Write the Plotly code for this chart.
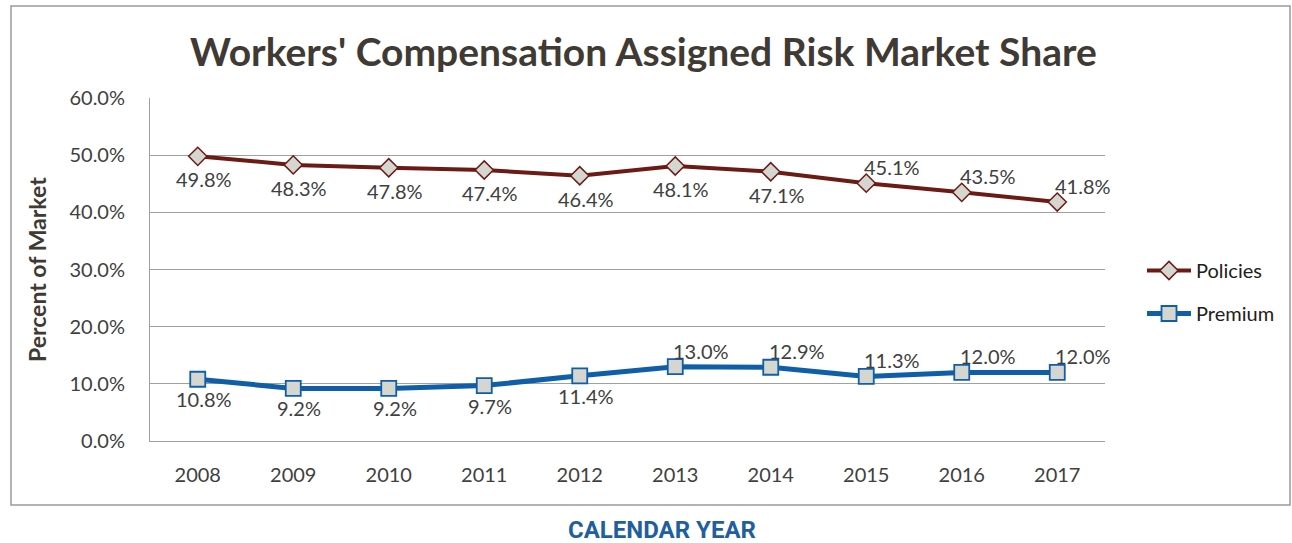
import plotly.graph_objects as go

years = ["2008", "2009", "2010", "2011", "2012", "2013", "2014", "2015", "2016", "2017"]
policies = [49.8, 48.3, 47.8, 47.4, 46.4, 48.1, 47.1, 45.1, 43.5, 41.8]
premium = [10.8, 9.2, 9.2, 9.7, 11.4, 13.0, 12.9, 11.3, 12.0, 12.0]
policies_above = [False] * 7 + [True] * 3
premium_above = [False] * 5 + [True] * 5

FONT = "Lato"
TXT = "#404040"

fig = go.Figure()
fig.add_trace(go.Scatter(
    x=years, y=policies, name="Policies", mode="lines+markers",
    line=dict(color="#6b1a14", width=4),
    marker=dict(symbol="diamond", size=14, color="#d6d6d0", line=dict(color="#6b1a14", width=1.5)),
    legendgroup="a",
))
fig.add_trace(go.Scatter(
    x=years, y=premium, name="Premium", mode="lines+markers",
    line=dict(color="#0f5ea8", width=5),
    marker=dict(symbol="square", size=15, color="#d6d6d0", line=dict(color="#0f5ea8", width=1.8)),
    legendgroup="b",
))

for vals, above, below_shift in ((policies, policies_above, -23), (premium, premium_above, -20)):
    for i, (v, a) in enumerate(zip(vals, above)):
        fig.add_annotation(x=i, y=v, xref="x", yref="y", text=f"{v:.1f}%", showarrow=False,
                           xanchor="center", yanchor="middle",
                           xshift=26 if a else 6, yshift=16 if a else below_shift,
                           font=dict(family=FONT, size=20, color=TXT))

L, R, T, B = 150, 187, 98, 102
W, H = 1292, 543
pw, ph = W - L - R, H - T - B

def px(x):
    return (x - L) / pw

def py(y):
    return (H - B - y) / ph

fig.update_layout(
    width=W, height=H,
    margin=dict(l=L, r=R, t=T, b=B, autoexpand=False),
    paper_bgcolor="white", plot_bgcolor="white",
    font=dict(family=FONT, color=TXT, size=20),
    title=dict(text="<b>Workers' Compensation Assigned Risk Market Share</b>",
               x=0.498, xanchor="center", y=1 - 52 / H, yanchor="middle", yref="container",
               font=dict(family=FONT, size=39, color="#3f3a33")),
    xaxis=dict(type="category", range=[-0.5, 9.5], showgrid=False, showline=True,
               linecolor="#a0a0a0", linewidth=1, ticks="outside", ticklen=0,
               ticklabelstandoff=16, tickfont=dict(size=20, color=TXT), zeroline=False),
    yaxis=dict(range=[0, 60], dtick=10, ticksuffix="%", tickformat=".1f",
               showgrid=True, gridcolor="#a0a0a0", gridwidth=1, showline=True,
               linecolor="#a0a0a0", ticks="outside", ticklen=0, ticklabelstandoff=20,
               tickfont=dict(size=20, color=TXT), zeroline=False),
    legend=dict(x=px(1142), y=py(292), xanchor="left", yanchor="middle",
                font=dict(size=20, color="#202020"), tracegroupgap=14,
                bgcolor="rgba(0,0,0,0)", itemwidth=44),
    showlegend=True,
)

fig.add_shape(type="rect", xref="paper", yref="paper",
              x0=px(11), x1=px(1290), y0=py(505), y1=py(6),
              line=dict(color="#9a9a9a", width=1.5), layer="below")

fig.add_annotation(text="<b>Percent of Market</b>", xref="paper", yref="paper",
                   x=px(37), y=py(270), textangle=-90, showarrow=False,
                   font=dict(family=FONT, size=23, color="#3f3a33"),
                   xanchor="center", yanchor="middle")
fig.add_annotation(text="<b>CALENDAR YEAR</b>", xref="paper", yref="paper",
                   x=px(662), y=py(530), showarrow=False,
                   font=dict(family="Roboto", size=24, color="#1f5fa0"),
                   xanchor="center", yanchor="middle")

fig.write_html("out.html", config={"displayModeBar": False},
               post_script="document.body.style.margin='0px';")
